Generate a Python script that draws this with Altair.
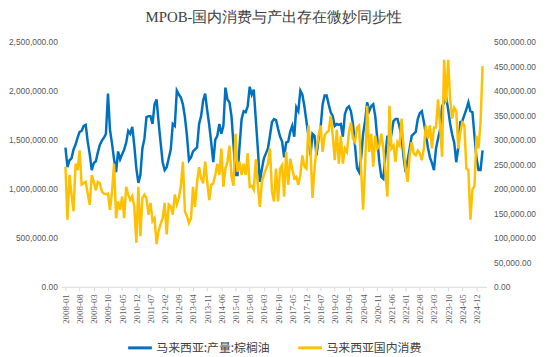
import altair as alt
import pandas as pd

# Monthly data, 2008-01 .. 2025-03
months = [f"{2008 + k // 12}-{k % 12 + 1:02d}" for k in range(207)]

# 马来西亚:产量:棕榈油 (thousand tonnes, left axis)
production_kt = [
    1420, 1220, 1290, 1310, 1400, 1450, 1520, 1580, 1590, 1640, 1650, 1480,
    1350, 1190, 1260, 1280, 1370, 1450, 1490, 1520, 1560, 1970, 1600, 1460,
    1300, 1170, 1380, 1300, 1350, 1400, 1470, 1590, 1560, 1630, 1440, 1210,
    1060, 1140, 1410, 1510, 1730, 1740, 1740, 1660, 1860, 1910, 1680, 1470,
    1270, 1190, 1220, 1310, 1400, 1660, 1640, 2000, 1960, 1930, 1860, 1730,
    1540, 1290, 1320, 1380, 1400, 1420, 1660, 1740, 1900, 1970, 1800, 1650,
    1470, 1270, 1500, 1540, 1660, 1560, 1640, 2030, 1910, 1880, 1740, 1450,
    1140, 1140, 1440, 1710, 1790, 1780, 1840, 2040, 1960, 2010, 1710, 1410,
    1070, 1200, 1310, 1360, 1410, 1540, 1680, 1710, 1700, 1610, 1530, 1480,
    1320, 1470, 1480, 1580, 1640, 1530, 1830, 1790, 2000, 1960, 1840, 1690,
    1540, 1340, 1560, 1540, 1340, 1510, 1620, 1860, 1950, 1950, 1860, 1780,
    1740, 1640, 1660, 1650, 1660, 1530, 1760, 1820, 1840, 1790, 1660, 1440,
    1210, 1170, 1310, 1560, 1690, 1880, 1790, 1840, 1860, 1740, 1510, 1270,
    1120, 1100, 1340, 1540, 1440, 1560, 1690, 1710, 1710, 1630, 1530, 1320,
    1170, 1290, 1410, 1540, 1560, 1580, 1710, 1770, 1790, 1680, 1560, 1420,
    1320, 1260, 1190, 1410, 1510, 1600, 1840, 1880, 1930, 1810, 1660, 1550,
    1470, 1270, 1420, 1680, 1690, 1750, 1810, 1880, 1790, 1780, 1540, 1310,
    1190, 1190, 1390,
]

# 马来西亚国内消费 (thousand tonnes, right axis)
consumption_kt = [
    245, 137, 228, 188, 154, 251, 238, 278, 208, 211, 214, 190,
    167, 228, 214, 197, 214, 211, 194, 190, 189, 190, 157, 194,
    251, 140, 174, 157, 184, 140, 204, 188, 177, 185, 163, 90,
    204, 103, 181, 188, 181, 147, 171, 134, 140, 87, 114, 128,
    140, 171, 107, 168, 164, 147, 188, 168, 181, 206, 255, 154,
    144, 130, 140, 204, 163, 214, 244, 221, 211, 255, 214, 177,
    208, 211, 228, 251, 228, 282, 204, 241, 255, 288, 224, 206,
    312, 234, 255, 228, 251, 228, 272, 204, 206, 198, 260, 208,
    163, 214, 228, 240, 251, 282, 194, 174, 241, 174, 241, 248,
    184, 275, 208, 261, 241, 221, 224, 208, 228, 268, 245, 241,
    329, 282, 181, 241, 282, 308, 329, 275, 308, 315, 318, 349,
    308, 258, 320, 251, 308, 251, 282, 275, 315, 335, 302, 295,
    325, 329, 241, 157, 248, 369, 275, 312, 245, 308, 282, 288,
    312, 282, 234, 184, 369, 282, 288, 255, 295, 288, 343, 282,
    241, 214, 268, 295, 272, 268, 278, 272, 258, 282, 329, 302,
    329, 282, 325, 325, 382, 329, 265, 463, 376, 463, 382, 343,
    365, 358, 282, 315, 335, 329, 241, 238, 137, 198, 206, 308,
    282, 335, 450,
]

S1 = "马来西亚:产量:棕榈油"
S2 = "马来西亚国内消费"
left_ticks = [0, 500000, 1000000, 1500000, 2000000, 2500000]
right_ticks = [k * 50000 for k in range(11)]
x_tick_idx = list(range(0, 204, 7))

rows = []
for i, m in enumerate(months):
    rows.append({"idx": i, "month": m, "series": S1, "value": production_kt[i] * 1000})
    rows.append({"idx": i, "month": m, "series": S2, "value": consumption_kt[i] * 1000})
df = pd.DataFrame(rows)

color = alt.Color(
    "series:N",
    scale=alt.Scale(domain=[S1, S2], range=["#0070C0", "#FFC000"]),
    legend=alt.Legend(
        title=None, orient="none", direction="horizontal", columns=2,
        legendX=66, legendY=296,
        symbolType="stroke", symbolSize=576, symbolStrokeWidth=3,
        labelFont="Noto Sans CJK SC", labelFontSize=12, labelColor="#404040",
        labelOffset=3, columnPadding=22, labelLimit=300,
    ),
)

x = alt.X(
    "idx:Q",
    scale=alt.Scale(domain=[-2, 208], nice=False, zero=False),
    axis=alt.Axis(
        values=x_tick_idx, title=None, labelAngle=-90,
        labelExpr="toString(2008 + floor(datum.value / 12)) + '-' + (datum.value % 12 < 9 ? '0' : '') + toString(datum.value % 12 + 1)",
        labelFont="Liberation Serif", labelFontSize=9, labelColor="#595959",
        domainColor="#d9d9d9", tickColor="#d9d9d9", tickSize=4, grid=False,
        labelPadding=3,
    ),
)

base = alt.Chart(df)
left = base.transform_filter(alt.datum.series == S1).mark_line(strokeWidth=2.5).encode(
    x=x,
    y=alt.Y(
        "value:Q",
        scale=alt.Scale(domain=[0, 2500000], nice=False),
        axis=alt.Axis(
            values=left_ticks, format=",.2f", orient="left", title=None,
            domain=False, ticks=False, grid=False,
            labelFont="Liberation Sans", labelFontSize=8.5, labelColor="#595959",
            labelPadding=4,
        ),
    ),
    color=color,
)
right = base.transform_filter(alt.datum.series == S2).mark_line(strokeWidth=2.5).encode(
    x=x,
    y=alt.Y(
        "value:Q",
        scale=alt.Scale(domain=[0, 500000], nice=False),
        axis=alt.Axis(
            values=right_ticks, format=",.2f", orient="right", title=None,
            domain=False, ticks=False, grid=False,
            labelFont="Liberation Sans", labelFontSize=8.5, labelColor="#595959",
            labelPadding=7,
        ),
    ),
    color=color,
)

chart = (
    alt.layer(left, right)
    .resolve_scale(y="independent")
    .properties(
        width=430, height=248,
        title=alt.TitleParams(
            "MPOB-国内消费与产出存在微妙同步性",
            font="Liberation Serif", fontSize=15, fontWeight="normal",
            color="#404040", anchor="middle", offset=13,
        ),
        autosize=alt.AutoSizeParams(type="none"),
        padding={"left": 54, "top": 32, "right": 56, "bottom": 66},
    )
    .configure_view(stroke=None)
)

chart.save("out.html", embed_options={"renderer": "svg", "actions": False})
